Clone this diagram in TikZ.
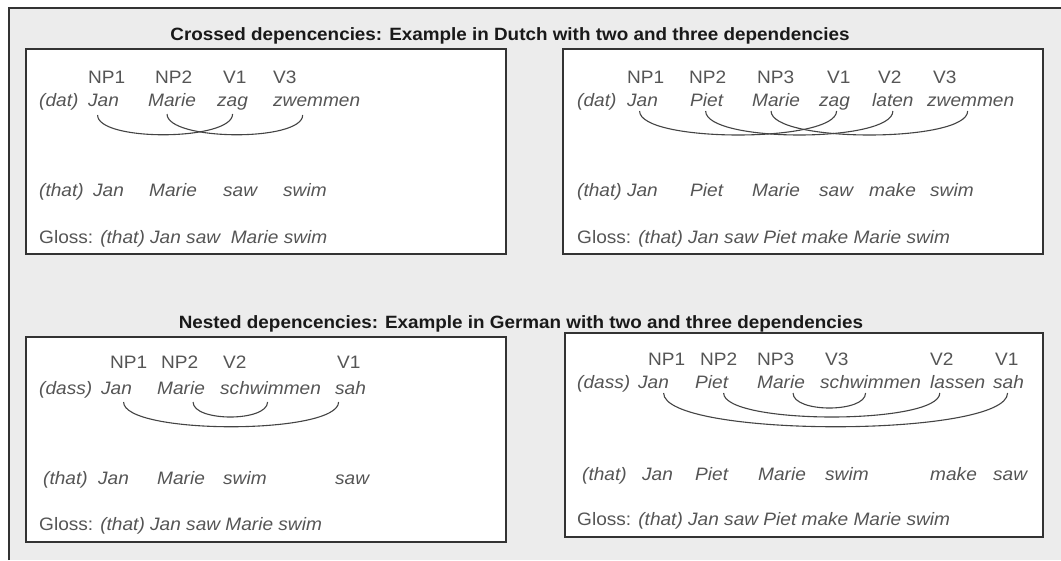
\documentclass[tikz,border=0pt]{standalone}
\usepackage{fontspec}
\setmainfont{Liberation Sans}[FakeStretch=1.06]
\definecolor{bg}{HTML}{ECECEC}
\definecolor{txt}{HTML}{555555}
\definecolor{frame}{HTML}{333333}
\definecolor{arc}{HTML}{444444}
\begin{document}
\begin{tikzpicture}[x=1pt,y=-1pt,
  w/.style={anchor=base west,inner sep=0pt,text=txt,font=\fontsize{18}{20}\selectfont\itshape},
  lab/.style={anchor=base west,inner sep=0pt,text=txt,font=\fontsize{18}{20}\selectfont},
  ttl/.style={anchor=base,inner sep=0pt,text=black!90,font=\fontsize{17.8}{20}\selectfont\bfseries},
  box/.style={draw=frame,line width=2pt,fill=white},
  dep/.style={draw=arc,line width=1.1pt}]
\useasboundingbox (0,0) rectangle (1061,560);
\fill[white] (0,0) rectangle (1061,560);
\fill[bg] (9,8) rectangle (1061,560);
\draw[frame,line width=2.5pt] (9,560) -- (9,8) -- (1061,8);

% titles
\node[ttl] (t1) at (510,40) {Crossed depencencies: Example in Dutch with two and three dependencies};
\node[ttl] (t2) at (521,328) {Nested depencencies: Example in German with two and three dependencies};

% boxes
\draw[box] (26,49) rectangle (506,254);
\draw[box] (563,49) rectangle (1043,254);
\draw[box] (26,337) rectangle (506,542);
\draw[box] (565,333) rectangle (1043,537);

% ---------- box 1 ----------
\node[lab] (a-np1) at (88,83) {NP1};
\node[lab] (a-np2) at (155,83) {NP2};
\node[lab] (a-v1) at (223,83) {V1};
\node[lab] (a-v3) at (273,83) {V3};
\node[w] (a-dat) at (39,106) {(dat)};
\node[w] (a-jan) at (88,106) {Jan};
\node[w] (a-marie) at (148,106) {Marie};
\node[w] (a-zag) at (217,106) {zag};
\node[w] (a-zw) at (273,106) {zwemmen};
\node[w] (a-that) at (39,196) {(that)};
\node[w] (a-jan2) at (93,196) {Jan};
\node[w] (a-marie2) at (149,196) {Marie};
\node[w] (a-saw) at (223,196) {saw};
\node[w] (a-swim) at (283,196) {swim};
\node[lab] (a-gl) at (39,243) {Gloss: \textit{(that) Jan saw\ \ Marie swim}};
\draw[dep] ([shift={(-6,9)}]a-jan.base) .. controls +(0,27) and +(0,27) .. ([shift={(0,8)}]a-zag.base);
\draw[dep] ([shift={(-5,8)}]a-marie.base) .. controls +(0,27) and +(0,27) .. ([shift={(-14,9)}]a-zw.base);

% ---------- box 2 ----------
\node[lab] (b-np1) at (627,83) {NP1};
\node[lab] (b-np2) at (689,83) {NP2};
\node[lab] (b-np3) at (757,83) {NP3};
\node[lab] (b-v1) at (827,83) {V1};
\node[lab] (b-v2) at (878,83) {V2};
\node[lab] (b-v3) at (933,83) {V3};
\node[w] (b-dat) at (577,106) {(dat)};
\node[w] (b-jan) at (627,106) {Jan};
\node[w] (b-piet) at (690,106) {Piet};
\node[w] (b-marie) at (752,106) {Marie};
\node[w] (b-zag) at (819,106) {zag};
\node[w] (b-laten) at (872,106) {laten};
\node[w] (b-zw) at (927,106) {zwemmen};
\node[w] (b-that) at (577,196) {(that) Jan};
\node[w] (b-piet2) at (690,196) {Piet};
\node[w] (b-marie2) at (752,196) {Marie};
\node[w] (b-saw) at (819,196) {saw};
\node[w] (b-make) at (869,196) {make};
\node[w] (b-swim) at (930,196) {swim};
\node[lab] (b-gl) at (577,243) {Gloss: \textit{(that) Jan saw Piet make Marie swim}};
\draw[dep] ([shift={(-3,5)}]b-jan.base) .. controls +(0,32) and +(0,32) .. ([shift={(2,5)}]b-zag.base);
\draw[dep] ([shift={(-1,5)}]b-piet.base) .. controls +(0,32) and +(0,32) .. ([shift={(0,5)}]b-laten.base);
\draw[dep] ([shift={(-5,5)}]b-marie.base) .. controls +(0,32) and +(0,32) .. ([shift={(-3,5)}]b-zw.base);

% ---------- box 3 ----------
\node[lab] (c-np1) at (110,368) {NP1};
\node[lab] (c-np2) at (161,368) {NP2};
\node[lab] (c-v2) at (223,368) {V2};
\node[lab] (c-v1) at (337,368) {V1};
\node[w] (c-dass) at (39,394) {(dass)};
\node[w] (c-jan) at (101,394) {Jan};
\node[w] (c-marie) at (157,394) {Marie};
\node[w] (c-schw) at (220,394) {schwimmen};
\node[w] (c-sah) at (335,394) {sah};
\node[w] (c-that) at (43,484) {(that)};
\node[w] (c-jan2) at (98,484) {Jan};
\node[w] (c-marie2) at (157,484) {Marie};
\node[w] (c-swim) at (223,484) {swim};
\node[w] (c-saw) at (335,484) {saw};
\node[lab] (c-gl) at (39,530) {Gloss: \textit{(that) Jan saw Marie swim}};
\draw[dep] ([shift={(7,8)}]c-jan.base) .. controls +(0,33) and +(0,33) .. ([shift={(-12,8)}]c-sah.base);
\draw[dep] ([shift={(12,8)}]c-marie.base) .. controls +(0,20) and +(0,20) .. ([shift={(-3,8)}]c-schw.base);

% ---------- box 4 ----------
\node[lab] (d-np1) at (648,365) {NP1};
\node[lab] (d-np2) at (700,365) {NP2};
\node[lab] (d-np3) at (757,365) {NP3};
\node[lab] (d-v3) at (825,365) {V3};
\node[lab] (d-v2) at (930,365) {V2};
\node[lab] (d-v1) at (995,365) {V1};
\node[w] (d-dass) at (577,388) {(dass)};
\node[w] (d-jan) at (638,388) {Jan};
\node[w] (d-piet) at (695,388) {Piet};
\node[w] (d-marie) at (757,388) {Marie};
\node[w] (d-schw) at (820,388) {schwimmen};
\node[w] (d-lassen) at (930,388) {lassen};
\node[w] (d-sah) at (993,388) {sah};
\node[w] (d-that) at (582,480) {(that)};
\node[w] (d-jan2) at (642,480) {Jan};
\node[w] (d-piet2) at (695,480) {Piet};
\node[w] (d-marie2) at (758,480) {Marie};
\node[w] (d-swim) at (825,480) {swim};
\node[w] (d-make) at (930,480) {make};
\node[w] (d-saw) at (993,480) {saw};
\node[lab] (d-gl) at (577,525) {Gloss: \textit{(that) Jan saw Piet make Marie swim}};
\draw[dep] ([shift={(10,5)}]d-jan.base) .. controls +(0,45) and +(0,45) .. ([shift={(-1,5)}]d-sah.base);
\draw[dep] ([shift={(12,5)}]d-piet.base) .. controls +(0,32) and +(0,32) .. ([shift={(-18,5)}]d-lassen.base);
\draw[dep] ([shift={(12,5)}]d-marie.base) .. controls +(0,20) and +(0,20) .. ([shift={(-5,5)}]d-schw.base);
\end{tikzpicture}
\end{document}
